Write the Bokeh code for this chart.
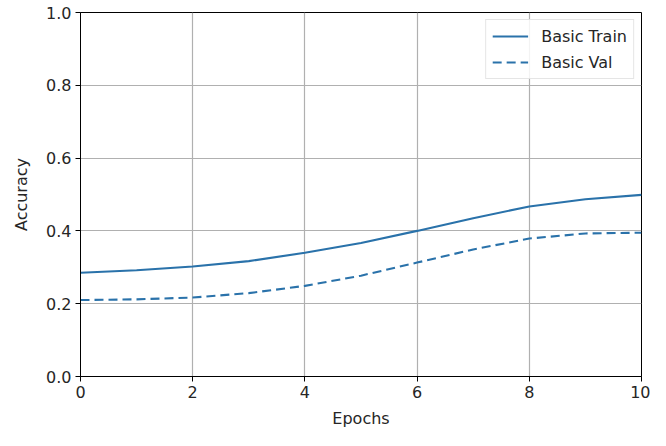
from bokeh.plotting import figure
from bokeh.models import Range1d, FixedTicker, PrintfTickFormatter, Legend, LegendItem
from bokeh.embed import file_html
from bokeh.resources import INLINE

epochs = [0, 1, 2, 3, 4, 5, 6, 7, 8, 9, 10]
basic_train = [0.285, 0.292, 0.302, 0.317, 0.340, 0.367, 0.400, 0.435, 0.467, 0.487, 0.499]
basic_val = [0.210, 0.212, 0.217, 0.229, 0.249, 0.277, 0.313, 0.349, 0.379, 0.393, 0.395]
x_ticks = [0, 2, 4, 6, 8, 10]
y_ticks = [0.0, 0.2, 0.4, 0.6, 0.8, 1.0]

COLOR = "#2a72aa"
FONT = "DejaVu Sans"
FS = "16px"
TXT = "#262626"

p = figure(width=650, height=430, x_range=Range1d(0, 10), y_range=Range1d(0, 1),
           output_backend="svg", toolbar_location=None,
           min_border_left=80, min_border_right=9, min_border_top=12, min_border_bottom=50)

r1 = p.line(epochs, basic_train, line_color=COLOR, line_width=2.1)
r2 = p.line(epochs, basic_val, line_color=COLOR, line_width=2.1, line_dash="9 5")

legend = Legend(items=[LegendItem(label="Basic Train", renderers=[r1]),
                       LegendItem(label="Basic Val", renderers=[r2])],
                location="top_right")
legend.label_text_font = FONT
legend.label_text_font_size = FS
legend.label_text_color = TXT
legend.glyph_width = 36
legend.glyph_height = 20
legend.label_height = 20
legend.label_standoff = 13
legend.spacing = 6
legend.padding = 6
legend.margin = 7
legend.border_line_color = "#cccccc"
legend.border_line_width = 1
legend.background_fill_alpha = 0.85
p.add_layout(legend)

p.xaxis.ticker = FixedTicker(ticks=x_ticks)
p.yaxis.ticker = FixedTicker(ticks=y_ticks)
p.yaxis.formatter = PrintfTickFormatter(format="%.1f")
p.xaxis.axis_label = "Epochs"
p.yaxis.axis_label = "Accuracy"

for ax in (p.xaxis, p.yaxis):
    ax.axis_label_text_font = FONT
    ax.axis_label_text_font_size = FS
    ax.axis_label_text_font_style = "normal"
    ax.axis_label_text_color = TXT
    ax.major_label_text_font = FONT
    ax.major_label_text_font_size = FS
    ax.major_label_text_color = TXT
    ax.axis_line_color = "black"
    ax.axis_line_width = 1
    ax.major_tick_line_color = "black"
    ax.major_tick_out = 5
    ax.major_tick_in = 0
    ax.minor_tick_line_color = None
    ax.major_label_standoff = 4

p.xaxis.axis_label_standoff = 8
p.yaxis.axis_label_standoff = 12

p.outline_line_color = "black"
p.outline_line_width = 1
p.grid.grid_line_color = "#b0b0b0"
p.grid.grid_line_width = 1.2
p.background_fill_color = "white"
p.border_fill_color = "white"

open("out.html", "w").write(file_html(p, INLINE))
